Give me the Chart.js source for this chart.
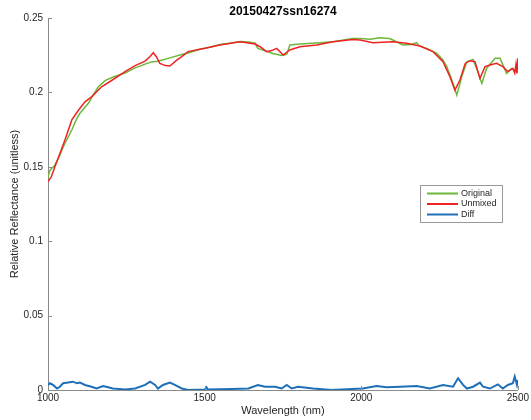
<!DOCTYPE html>
<html>
<head>
<meta charset="utf-8">
<script src="https://cdn.jsdelivr.net/npm/chart.js@4.4.1/dist/chart.umd.min.js"></script>
<style>
  html, body { margin: 0; padding: 0; background: #fff; }
  #wrap { width: 531px; height: 420px; }
</style>
</head>
<body>
<div id="wrap"><canvas id="spectrumChart" width="531" height="420"></canvas></div>
<script>
const chartTitle = "20150427ssn16274";
const xTicks = [1000, 1500, 2000, 2500];
const yTicks = [0, 0.05, 0.1, 0.15, 0.2, 0.25];

const originalWl = [1000, 1005, 1012, 1020, 1035, 1049, 1062, 1076, 1090, 1102, 1116, 1129, 1145, 1161, 1182, 1210, 1246, 1278, 1310, 1330, 1351, 1389, 1427, 1447, 1485, 1520, 1549, 1580, 1613, 1640, 1661, 1670, 1693, 1718, 1746, 1762, 1772, 1804, 1858, 1910, 1973, 1996, 2028, 2060, 2090, 2101, 2133, 2160, 2177, 2185, 2209, 2241, 2260, 2273, 2293, 2305, 2321, 2337, 2357, 2370, 2385, 2400, 2427, 2443, 2464, 2480, 2496, 2500];
const originalVals = [0.1430, 0.1470, 0.1490, 0.1505, 0.1565, 0.1635, 0.1690, 0.1747, 0.1815, 0.1860, 0.1895, 0.1927, 0.1985, 0.2038, 0.2079, 0.2105, 0.2130, 0.2165, 0.2190, 0.2205, 0.2210, 0.2232, 0.2255, 0.2265, 0.2290, 0.2305, 0.2322, 0.2330, 0.2342, 0.2338, 0.2330, 0.2296, 0.2280, 0.2262, 0.2248, 0.2255, 0.2319, 0.2325, 0.2332, 0.2340, 0.2362, 0.2363, 0.2358, 0.2368, 0.2362, 0.2352, 0.2319, 0.2322, 0.2335, 0.2312, 0.2296, 0.2262, 0.2220, 0.2173, 0.2060, 0.1982, 0.2106, 0.2206, 0.2222, 0.2150, 0.2060, 0.2161, 0.2229, 0.2229, 0.2128, 0.2161, 0.2140, 0.2145];

const unmixedWl = [1000, 1010, 1022, 1038, 1054, 1076, 1097, 1118, 1139, 1171, 1203, 1246, 1278, 1310, 1325, 1336, 1346, 1357, 1375, 1389, 1410, 1427, 1447, 1485, 1501, 1549, 1613, 1661, 1677, 1698, 1714, 1730, 1751, 1772, 1804, 1858, 1910, 1973, 1996, 2037, 2101, 2145, 2187, 2229, 2261, 2283, 2299, 2315, 2332, 2347, 2363, 2379, 2395, 2411, 2432, 2452, 2468, 2484, 2490, 2494, 2497, 2500];
const unmixedVals = [0.1400, 0.1430, 0.1500, 0.1590, 0.1680, 0.1815, 0.1880, 0.1937, 0.1970, 0.2038, 0.2080, 0.2140, 0.2180, 0.2210, 0.2240, 0.2267, 0.2240, 0.2195, 0.2180, 0.2177, 0.2215, 0.2240, 0.2274, 0.2290, 0.2296, 0.2319, 0.2340, 0.2325, 0.2307, 0.2274, 0.2281, 0.2296, 0.2251, 0.2285, 0.2307, 0.2319, 0.2340, 0.2355, 0.2352, 0.2334, 0.2340, 0.2330, 0.2312, 0.2274, 0.2206, 0.2106, 0.2016, 0.2083, 0.2195, 0.2213, 0.2206, 0.2094, 0.2173, 0.2184, 0.2195, 0.2173, 0.2140, 0.2161, 0.2130, 0.2190, 0.2128, 0.2229];

const diffWl = [1000, 1006, 1016, 1029, 1038, 1048, 1064, 1080, 1092, 1102, 1118, 1139, 1155, 1176, 1192, 1207, 1246, 1278, 1310, 1326, 1342, 1351, 1367, 1389, 1405, 1427, 1447, 1501, 1506, 1510, 1586, 1640, 1670, 1693, 1725, 1746, 1762, 1778, 1798, 1846, 1905, 2005, 2049, 2081, 2124, 2177, 2219, 2261, 2293, 2309, 2325, 2337, 2357, 2379, 2389, 2411, 2436, 2452, 2468, 2484, 2490, 2497, 2500];
const diffVals = [0.0034, 0.0045, 0.0034, 0.0010, 0.0022, 0.0045, 0.0050, 0.0056, 0.0045, 0.0050, 0.0034, 0.0022, 0.0010, 0.0027, 0.0018, 0.0010, 0.0004, 0.0010, 0.0034, 0.0056, 0.0034, 0.0010, 0.0034, 0.0050, 0.0034, 0.0010, 0.0000, 0.0004, 0.0018, 0.0003, 0.0007, 0.0010, 0.0034, 0.0022, 0.0022, 0.0010, 0.0034, 0.0010, 0.0022, 0.0010, 0.0000, 0.0010, 0.0027, 0.0018, 0.0022, 0.0027, 0.0010, 0.0034, 0.0022, 0.0079, 0.0034, 0.0010, 0.0022, 0.0050, 0.0022, 0.0010, 0.0038, 0.0010, 0.0034, 0.0045, 0.0090, 0.0034, 0.0067];

const toPoints = (xs, ys) => xs.map((x, i) => ({ x: x, y: ys[i] }));

const axisColor = "#8a8a8a";
const textColor = "#262626";

// title, boxed legend and inward tick marks, matlab style
const matlabBits = {
  id: "matlabBits",
  afterDraw(chart) {
    const c = chart.ctx;
    const area = chart.chartArea;
    const xs = chart.scales.x;
    const ys = chart.scales.y;

    c.save();
    c.strokeStyle = axisColor;
    c.lineWidth = 1;
    c.beginPath();
    yTicks.forEach((v) => {
      const py = Math.round(ys.getPixelForValue(v)) + 0.5;
      c.moveTo(area.left, py);
      c.lineTo(area.left + 4, py);
    });
    xTicks.forEach((v) => {
      const px = Math.round(xs.getPixelForValue(v)) + 0.5;
      c.moveTo(px, area.bottom);
      c.lineTo(px, area.bottom - 4);
    });
    c.stroke();

    c.fillStyle = "#000";
    c.font = "bold 12px 'Liberation Sans', Arial, sans-serif";
    c.textAlign = "center";
    c.textBaseline = "middle";
    c.fillText(chartTitle, (area.left + area.right) / 2, 12);

    // legend box
    const bx = 420.5, by = 185.5, bw = 82, bh = 37;
    c.fillStyle = "#fff";
    c.fillRect(bx, by, bw, bh);
    c.strokeStyle = "#999";
    c.strokeRect(bx, by, bw, bh);
    c.font = "9px 'Liberation Sans', Arial, sans-serif";
    c.textAlign = "left";
    chart.data.datasets.forEach((ds, i) => {
      const ry = 193.5 + i * 10.5;
      c.strokeStyle = ds.borderColor;
      c.lineWidth = 2;
      c.beginPath();
      c.moveTo(427, ry);
      c.lineTo(458, ry);
      c.stroke();
      c.fillStyle = textColor;
      c.fillText(ds.label, 461, ry);
    });
    c.restore();
  },
};

new Chart(document.getElementById("spectrumChart"), {
  type: "line",
  data: {
    datasets: [
      {
        label: "Original",
        data: toPoints(originalWl, originalVals),
        borderColor: "#6bb83a",
        borderWidth: 1.5,
        pointRadius: 0,
        tension: 0,
        order: 2,
      },
      {
        label: "Unmixed",
        data: toPoints(unmixedWl, unmixedVals),
        borderColor: "#ee2424",
        borderWidth: 1.5,
        pointRadius: 0,
        tension: 0,
        order: 1,
      },
      {
        label: "Diff",
        data: toPoints(diffWl, diffVals),
        borderColor: "#1f6fb8",
        borderWidth: 2,
        pointRadius: 0,
        tension: 0,
        order: 0,
      },
    ],
  },
  options: {
    responsive: false,
    animation: false,
    layout: { padding: { top: 18, right: 11, left: 0, bottom: 0 } },
    plugins: {
      legend: { display: false },
      tooltip: { enabled: false },
    },
    scales: {
      x: {
        type: "linear",
        min: 1000,
        max: 2500,
        afterFit: (s) => { s.height = 30; },
        afterBuildTicks: (s) => { s.ticks = xTicks.map((v) => ({ value: v })); },
        ticks: {
          color: textColor,
          padding: 2,
          maxRotation: 0,
          font: { family: "'Liberation Sans', Arial, sans-serif", size: 10 },
          callback: (v) => String(v),
        },
        grid: { display: false, drawTicks: false },
        border: { display: true, color: axisColor, width: 1 },
        title: {
          display: true,
          text: "Wavelength (nm)",
          color: textColor,
          padding: { top: 0, bottom: 2 },
          font: { family: "'Liberation Sans', Arial, sans-serif", size: 11 },
        },
      },
      y: {
        min: 0,
        max: 0.25,
        afterFit: (s) => { s.width = 48; },
        afterBuildTicks: (s) => { s.ticks = yTicks.map((v) => ({ value: v })); },
        ticks: {
          color: textColor,
          padding: 5,
          font: { family: "'Liberation Sans', Arial, sans-serif", size: 10 },
          callback: (v) => String(v),
        },
        grid: { display: false, drawTicks: false },
        border: { display: true, color: axisColor, width: 1 },
        title: {
          display: true,
          text: "Relative Reflectance (unitless)",
          color: textColor,
          padding: { top: 8, bottom: 0 },
          font: { family: "'Liberation Sans', Arial, sans-serif", size: 11 },
        },
      },
    },
  },
  plugins: [matlabBits],
});
</script>
</body>
</html>
